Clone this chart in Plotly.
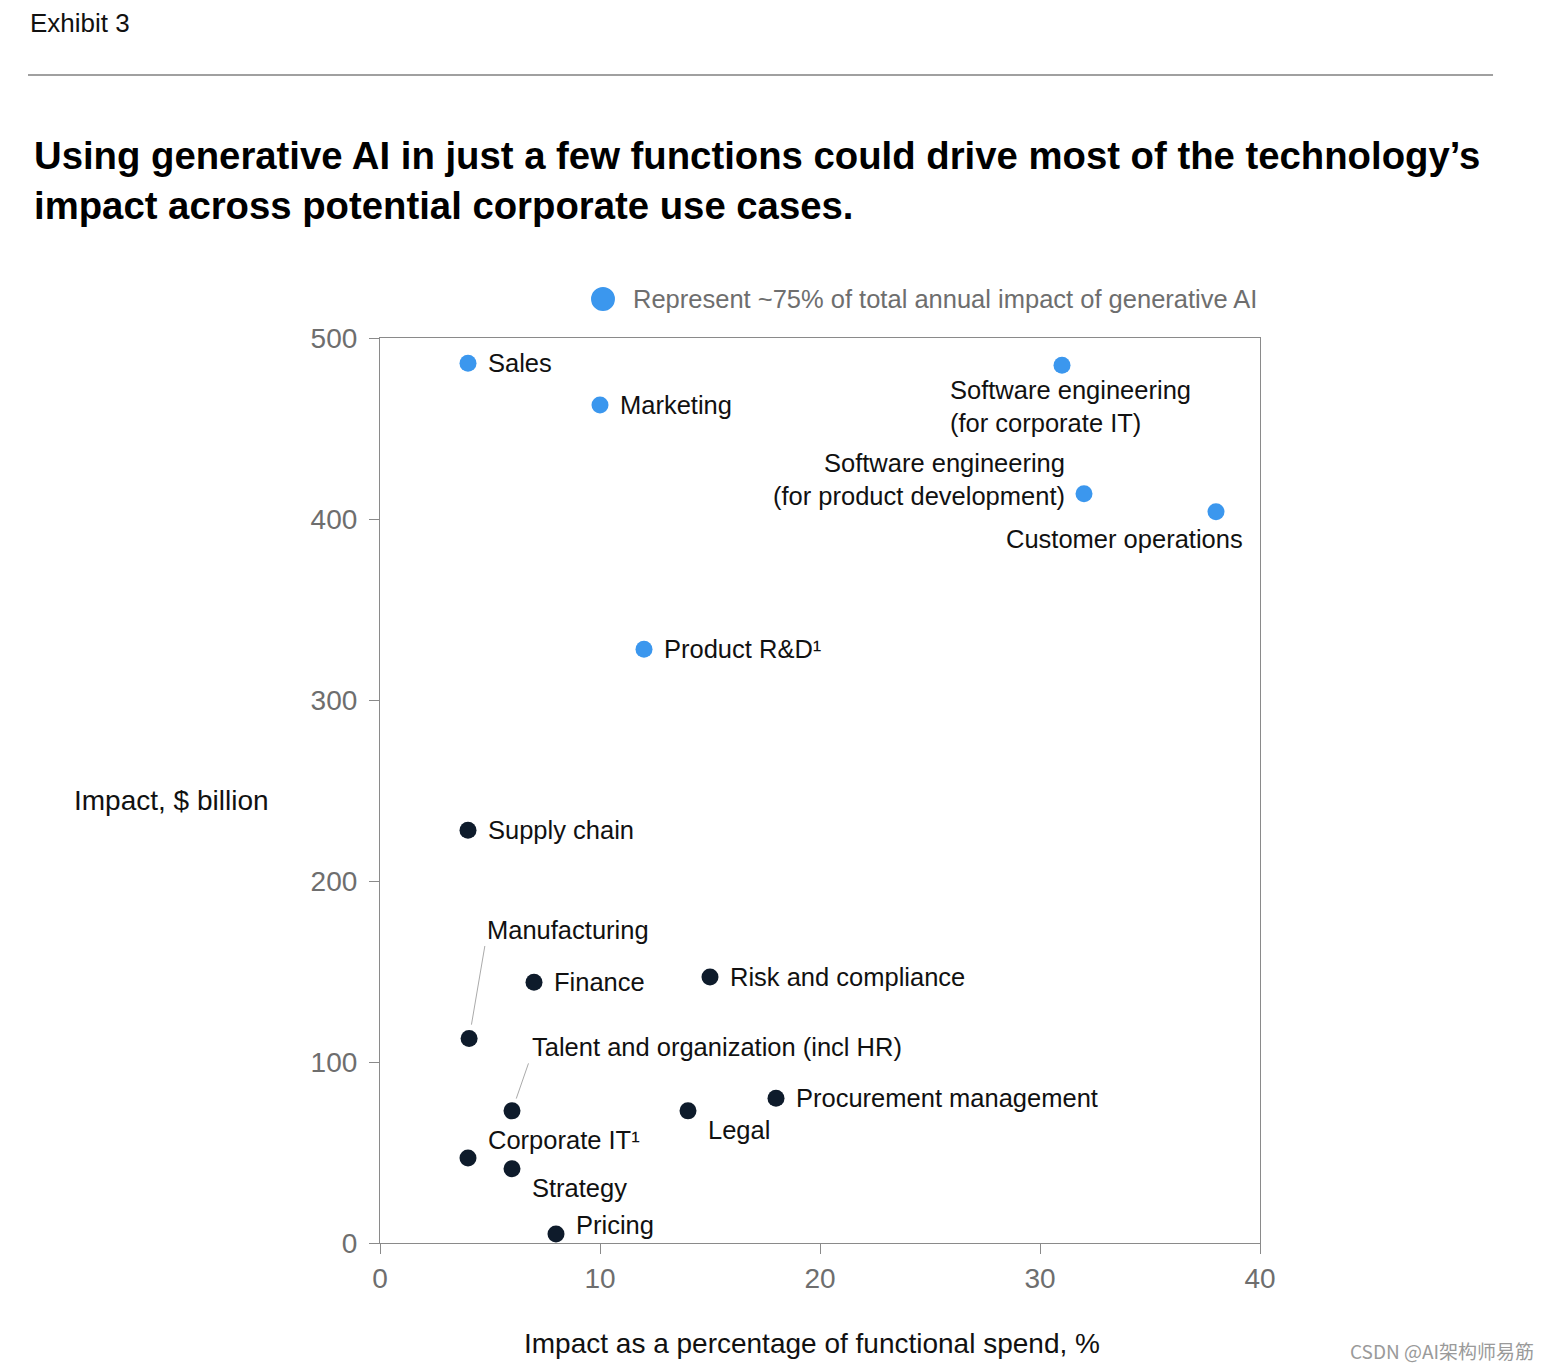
import plotly.graph_objects as go

# ---- data ----
functions = ["Sales", "Marketing", "Software engineering<br>(for corporate IT)",
             "Software engineering<br>(for product development)", "Customer operations",
             "Product R&D¹", "Supply chain", "Manufacturing", "Finance",
             "Risk and compliance", "Talent and organization (incl HR)", "Legal",
             "Procurement management", "Corporate IT¹", "Strategy", "Pricing"]
pct_spend = [4, 10, 31, 32, 38, 12, 4, 4.05, 7, 15, 6, 14, 18, 4, 6, 8]
impact_bn = [486, 463, 485, 414, 404, 328, 228, 113, 144, 147, 73, 73, 80, 47, 41, 5]
top_group = [True, True, True, True, True, True, False, False, False,
             False, False, False, False, False, False, False]
x_ticks = [0, 10, 20, 30, 40]
y_ticks = [0, 100, 200, 300, 400, 500]

BLUE = "#3B97EE"
DARK = "#0E1B2B"
FONT = "Liberation Sans"
LBL = 25.5

# label placement styles (pixel offsets from marker)
label_style = {
    "Sales": dict(xanchor="left", yanchor="middle", xshift=18, yshift=0),
    "Marketing": dict(xanchor="left", yanchor="middle", xshift=18, yshift=0),
    "Software engineering<br>(for corporate IT)": dict(xanchor="left", yanchor="top", xshift=-114, yshift=-9, align="left"),
    "Software engineering<br>(for product development)": dict(xanchor="right", yanchor="middle", xshift=-17, yshift=14, align="right"),
    "Customer operations": dict(xanchor="center", yanchor="middle", xshift=-92, yshift=-27),
    "Product R&D¹": dict(xanchor="left", yanchor="middle", xshift=18, yshift=0),
    "Supply chain": dict(xanchor="left", yanchor="middle", xshift=18, yshift=0),
    "Manufacturing": dict(xanchor="left", yanchor="middle", xshift=16, yshift=108),
    "Finance": dict(xanchor="left", yanchor="middle", xshift=18, yshift=0),
    "Risk and compliance": dict(xanchor="left", yanchor="middle", xshift=18, yshift=0),
    "Talent and organization (incl HR)": dict(xanchor="left", yanchor="middle", xshift=18, yshift=64),
    "Legal": dict(xanchor="left", yanchor="middle", xshift=18, yshift=-19),
    "Procurement management": dict(xanchor="left", yanchor="middle", xshift=18, yshift=0),
    "Corporate IT¹": dict(xanchor="left", yanchor="middle", xshift=18, yshift=18),
    "Strategy": dict(xanchor="left", yanchor="middle", xshift=18, yshift=-19),
    "Pricing": dict(xanchor="left", yanchor="middle", xshift=18, yshift=9),
}
leader_lines = {
    "Manufacturing": dict(ax=16, ay=-94, standoff=14),
    "Talent and organization (incl HR)": dict(ax=17, ay=-49, standoff=13),
}

fig = go.Figure()
fig.add_trace(go.Scatter(
    x=pct_spend, y=impact_bn, mode="markers",
    marker=dict(size=17, color=[BLUE if t else DARK for t in top_group], line=dict(width=0)),
    hovertext=functions, showlegend=False, cliponaxis=False,
))

annotations = []
for name, xv, yv in zip(functions, pct_spend, impact_bn):
    st = label_style[name]
    annotations.append(dict(x=xv, y=yv, xref="x", yref="y", text=name, showarrow=False,
                            font=dict(family=FONT, size=LBL, color="#111111"), **st))
    if name in leader_lines:
        ll = leader_lines[name]
        annotations.append(dict(x=xv, y=yv, xref="x", yref="y", text="", showarrow=True,
                                axref="pixel", ayref="pixel", ax=ll["ax"], ay=ll["ay"],
                                arrowhead=0, arrowwidth=1, arrowcolor="#AAAAAA",
                                standoff=ll["standoff"]))

# header text
annotations += [
    dict(xref="paper", yref="paper", x=-0.4, y=1.3481, xanchor="left", yanchor="middle",
         text="Exhibit 3", showarrow=False, font=dict(family=FONT, size=26, color="#111111")),
    dict(xref="paper", yref="paper", x=-0.3955, y=1.1735, xanchor="left", yanchor="middle",
         text="<b>Using generative AI in just a few functions could drive most of the technology’s<br>impact across potential corporate use cases.</b>",
         align="left", showarrow=False, font=dict(family=FONT, size=38.3, color="#000000")),
    dict(xref="paper", yref="paper", x=0.285, y=1.0431, xanchor="left", yanchor="middle",
         text="Represent ~75% of total annual impact of generative AI", showarrow=False,
         font=dict(family=FONT, size=LBL, color="#6E6E6E")),
    dict(xref="paper", yref="paper", x=-0.2375, y=0.4895, xanchor="center", yanchor="middle",
         text="Impact, $ billion", showarrow=False, font=dict(family=FONT, size=28, color="#111111")),
    dict(xref="paper", yref="paper", x=0.491, y=-0.1105, xanchor="center", yanchor="middle",
         text="Impact as a percentage of functional spend, %", showarrow=False,
         font=dict(family=FONT, size=28, color="#111111")),
    dict(xref="paper", yref="paper", x=1.3136, y=-0.1193, xanchor="right", yanchor="middle",
         text="CSDN @AI架构师易筋", showarrow=False,
         font=dict(family="Noto Sans CJK SC", size=19, color="#9A9A9A")),
]

shapes = [
    dict(type="line", xref="paper", yref="paper", x0=-0.4, x1=1.2648, y0=1.2906, y1=1.2906,
         line=dict(color="#A0A0A0", width=2)),
    dict(type="circle", xref="paper", yref="paper", x0=0.2398, x1=0.2670, y0=1.0298, y1=1.0564,
         fillcolor=BLUE, line=dict(width=0)),
]

axis_common = dict(showgrid=False, zeroline=False, showline=True, linecolor="#8A8A8A",
                   linewidth=1.2, mirror=True, ticks="outside", ticklen=10, tickcolor="#8A8A8A",
                   tickwidth=1.2, tickfont=dict(family=FONT, size=28, color="#6E6E6E"))

fig.update_layout(
    width=1552, height=1370,
    margin=dict(l=372, r=300, t=330, b=135),
    paper_bgcolor="white", plot_bgcolor="white",
    xaxis=dict(range=[0, 40], tickvals=x_ticks, **axis_common),
    yaxis=dict(range=[0, 500], tickvals=y_ticks, ticklabelstandoff=6, **axis_common),
    annotations=annotations, shapes=shapes, showlegend=False,
)

fig.write_html("out.html")
